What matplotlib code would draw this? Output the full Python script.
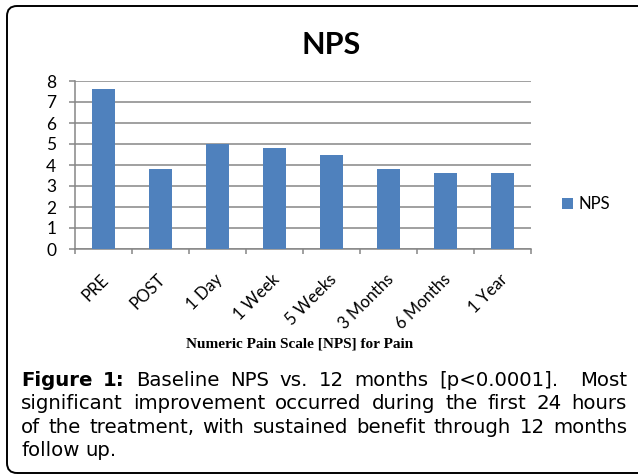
import numpy as np
import matplotlib
matplotlib.use("Agg")
import matplotlib.pyplot as plt
import matplotlib.patches as mpatches
from matplotlib.transforms import IdentityTransform, ScaledTranslation

# data
categories = ["PRE", "POST", "1 Day", "1 Week", "5 Weeks", "3 Months", "6 Months", "1 Year"]
nps_values = [7.6, 3.8, 5.0, 4.8, 4.5, 3.8, 3.6, 3.6]
y_ticks = [0, 1, 2, 3, 4, 5, 6, 7, 8]

title = "NPS"
series_name = "NPS"
x_label = "Numeric Pain Scale [NPS] for Pain"
# (word, weight, relative width of the space before it)
caption_lines = [
    [("Figure", "bold", 1), ("1:", "bold", 1), ("Baseline", "normal", 1), ("NPS", "normal", 1),
     ("vs.", "normal", 1), ("12", "normal", 1), ("months", "normal", 1),
     ("[p<0.0001].", "normal", 1), ("Most", "normal", 2)],
    [(w, "normal", 1) for w in "significant improvement occurred during the first 24 hours".split()],
    [(w, "normal", 1) for w in "of the treatment, with sustained benefit through 12 months".split()],
    [(w, "normal", 1) for w in "follow up.".split()],
]

W, H = 638, 475
BAR_COLOR = "#4F81BD"
GRID_COLOR = "#868686"
UI_FONT = "Lato"
CAPTION_FONT = "DejaVu Sans"
CAPTION_SIZE = 14.2


def px(x):
    return x / W


def py(y):
    return 1 - y / H


fig = plt.figure(figsize=(W / 100, H / 100), dpi=100)
fig.patch.set_facecolor("white")

# rounded frame around the whole figure (runs off the right edge)
frame = mpatches.FancyBboxPatch((7, H - 473), 660, 467,
                                boxstyle="round,pad=0,rounding_size=10",
                                transform=IdentityTransform(),
                                facecolor="none", edgecolor="black", linewidth=1.4)
fig.add_artist(frame)

ax = fig.add_axes([px(75), py(249), px(531) - px(75), py(81) - py(249)])
x = np.arange(len(categories))
ax.bar(x, nps_values, width=0.42, color=BAR_COLOR, zorder=3, label=series_name)

ax.set_xlim(-0.5, len(categories) - 0.5)
ax.set_ylim(0, 8)
ax.set_yticks(y_ticks)
ax.set_yticklabels([str(v) for v in y_ticks], fontfamily=UI_FONT, fontsize=12.5)
ax.yaxis.grid(True, color=GRID_COLOR, linewidth=1.1, zorder=0)
ax.set_axisbelow(True)

for side in ["top", "right"]:
    ax.spines[side].set_visible(False)
for side in ["left", "bottom"]:
    ax.spines[side].set_color(GRID_COLOR)
    ax.spines[side].set_linewidth(1.1)

ax.tick_params(axis="y", direction="out", length=4.5, width=1.1, color=GRID_COLOR, pad=9)

# category labels at centres, tick marks at category boundaries
ax.set_xticks(x)
ax.set_xticklabels(categories, fontfamily=UI_FONT, fontsize=12, rotation=45,
                   ha="right", rotation_mode="anchor")
ax.set_xticks(np.arange(-0.5, len(categories), 1), minor=True)
ax.tick_params(axis="x", which="major", length=0, pad=16)
ax.tick_params(axis="x", which="minor", length=3.5, width=1.1, color=GRID_COLOR, direction="out")
shift = ScaledTranslation(-3 / 100, 0, fig.dpi_scale_trans)
for lab in ax.get_xticklabels():
    lab.set_transform(lab.get_transform() + shift)

fig.text(px(331), py(45), title, ha="center", va="center",
         fontfamily=UI_FONT, fontweight="bold", fontsize=22)

fig.text(px(300), py(344), x_label, ha="center", va="center",
         fontfamily="Liberation Serif", fontweight="bold", fontsize=11)

ax.legend(loc="center left", bbox_to_anchor=(px(562), py(204)), bbox_transform=fig.transFigure,
          frameon=False, handlelength=0.65, handleheight=0.65, handletextpad=0.35,
          borderpad=0, borderaxespad=0, prop={"family": UI_FONT, "size": 12})

# justified caption
renderer = fig.canvas.get_renderer()
left, right = 21, 627
baselines = [386, 409, 433, 456]
for i, (words, base) in enumerate(zip(caption_lines, baselines)):
    texts = [fig.text(0, py(base), w, fontfamily=CAPTION_FONT, fontweight=wt, fontsize=CAPTION_SIZE,
                      va="baseline", ha="left") for w, wt, _ in words]
    widths = [t.get_window_extent(renderer).width for t in texts]
    weights = [g for _, _, g in words][1:]
    last = i == len(caption_lines) - 1
    if last or len(texts) < 2:
        unit = renderer.points_to_pixels(CAPTION_SIZE) * 0.32
    else:
        unit = (right - left - sum(widths)) / sum(weights)
    cur = left
    for j, (t, w) in enumerate(zip(texts, widths)):
        if j > 0:
            cur += unit * weights[j - 1]
        t.set_x(px(cur))
        cur += w

fig.savefig("out.png", dpi=100)
